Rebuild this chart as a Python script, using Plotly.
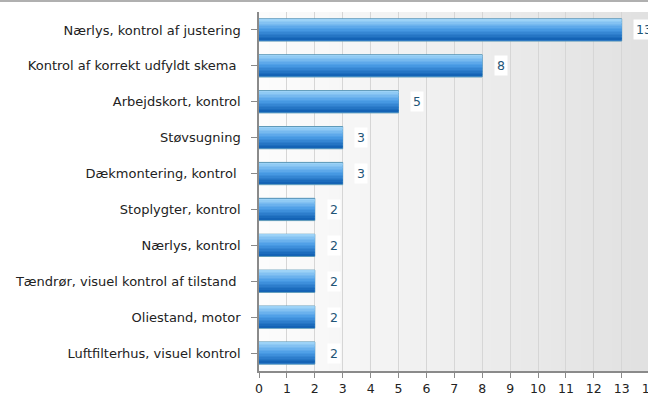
import plotly.graph_objects as go

categories = [
    "Nærlys, kontrol af justering",
    "Kontrol af korrekt udfyldt skema ",
    "Arbejdskort, kontrol",
    "Støvsugning",
    "Dækmontering, kontrol ",
    "Stoplygter, kontrol",
    "Nærlys, kontrol",
    "Tændrør, visuel kontrol af tilstand ",
    "Oliestand, motor",
    "Luftfilterhus, visuel kontrol",
]
values = [13, 8, 5, 3, 3, 2, 2, 2, 2, 2]
x_ticks = list(range(0, 16))

FONT = "DejaVu Sans"

def lerp(c1, c2, t):
    return "#%02x%02x%02x" % tuple(int(round(a + (b - a) * t)) for a, b in zip(c1, c2))

fig = go.Figure()

bar_w = 0.62
fig.add_trace(go.Bar(
    y=categories, x=values, orientation="h", width=bar_w,
    marker=dict(color="#3b8ede", line=dict(color="#5f9ab8", width=1)),
    hoverinfo="x+y", showlegend=False,
))
n = 14
top_c = (0x9c, 0xd2, 0xf7)
mid_c = (0x4a, 0x9c, 0xe6)
bot_c = (0x14, 0x63, 0xb5)
inner = bar_w - 0.04
band = inner / n
for i in range(n):
    t = i / (n - 1)
    col = lerp(top_c, mid_c, t * 2) if t < 0.5 else lerp(mid_c, bot_c, (t - 0.5) * 2)
    fig.add_trace(go.Bar(
        y=categories, x=values, orientation="h", width=band * 1.05,
        offset=-inner / 2 + i * band,
        marker=dict(color=col, line=dict(width=0)),
        hoverinfo="skip", showlegend=False,
    ))

shapes = []
steps = 40
for i in range(steps):
    t = i / (steps - 1)
    shapes.append(dict(
        type="rect", xref="x domain", yref="y domain",
        x0=i / steps, x1=(i + 1) / steps + 0.002, y0=0, y1=1,
        fillcolor=lerp((0xfc, 0xfc, 0xfc), (0xe0, 0xe0, 0xe0), t),
        line=dict(width=0), layer="below",
    ))
shapes.append(dict(type="line", xref="paper", yref="paper", x0=-1, x1=1.2,
                   y0=1 + 11 / 359, y1=1 + 11 / 359,
                   line=dict(color="#b0b0b0", width=2)))

annotations = []
for c, v in zip(categories, values):
    annotations.append(dict(
        x=v + 0.42, y=c, xref="x", yref="y", text=str(v), showarrow=False,
        xanchor="left", yanchor="middle", bgcolor="#ffffff", borderpad=2,
        font=dict(family=FONT, size=12.5, color="#1f5577"),
    ))

fig.update_layout(
    width=662, height=405,
    margin=dict(l=259, r=0, t=12, b=34, autoexpand=False),
    paper_bgcolor="#ffffff", plot_bgcolor="#f2f2f2",
    barmode="overlay", bargap=0.38,
    shapes=shapes, annotations=annotations,
    font=dict(family=FONT, size=12, color="#222222"),
    xaxis=dict(
        range=[0, 403 / 27.9], tickvals=x_ticks, showgrid=True, gridcolor="#d6d6d6",
        gridwidth=1, zeroline=False, showline=True, linecolor="#8a8a8a",
        linewidth=1.5, ticks="outside", ticklen=5, tickcolor="#8a8a8a",
        automargin=False,
        tickfont=dict(family=FONT, size=12.5, color="#222222"),
    ),
    yaxis=dict(
        autorange="reversed", showgrid=False, showline=True, linecolor="#8a8a8a",
        linewidth=1.5, ticks="outside", ticklen=6, tickcolor="#8a8a8a",
        automargin=False, ticklabelstandoff=8,
        tickfont=dict(family=FONT, size=13, color="#222222"),
    ),
)

fig.write_html(
    "out.html",
    config={"displayModeBar": False},
    post_script="document.body.style.margin='0';document.body.style.overflow='hidden';"
                "document.documentElement.style.overflow='hidden';",
)
